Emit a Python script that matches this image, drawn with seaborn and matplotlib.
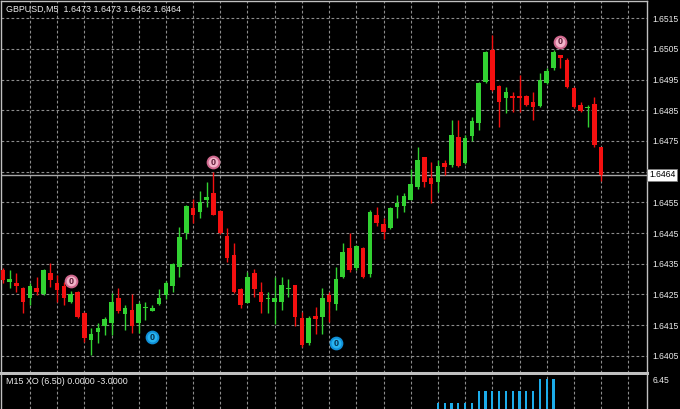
import matplotlib
import numpy as np
import pandas as pd

matplotlib.use("Agg")
import matplotlib.pyplot as plt
import seaborn as sns

symbol = "GBPUSD,M5"
last_bar = [1.6473, 1.6473, 1.6462, 1.6464]

opens = [1.64329, 1.64290, 1.64288, 1.64271, 1.64238, 1.64271, 1.64251, 1.64319, 1.64287, 1.64278,
         1.64225, 1.64257, 1.64189, 1.64101, 1.64127, 1.64147, 1.64156, 1.64238, 1.64186, 1.64199,
         1.64156, 1.64206, 1.64196, 1.64218, 1.64248, 1.64277, 1.64339, 1.64450, 1.64531, 1.64518,
         1.64557, 1.64580, 1.64522, 1.64440, 1.64378, 1.64267, 1.64222, 1.64319, 1.64257, 1.64235,
         1.64225, 1.64225, 1.64267, 1.64280, 1.64173, 1.64091, 1.64179, 1.64176, 1.64248, 1.64218,
         1.64306, 1.64401, 1.64336, 1.64401, 1.64316, 1.64509, 1.64479, 1.64466, 1.64535, 1.64538,
         1.64557, 1.64600, 1.64698, 1.64629, 1.64616, 1.64678, 1.64672, 1.64763, 1.64678, 1.64766,
         1.64809, 1.64942, 1.65047, 1.64929, 1.64890, 1.64897, 1.64897, 1.64897, 1.64877, 1.64864,
         1.64939, 1.64988, 1.65030, 1.65014, 1.64923, 1.64867, 1.64858, 1.64871, 1.64730]
highs = [1.64336, 1.64329, 1.64319, 1.64274, 1.64287, 1.64306, 1.64332, 1.64352, 1.64313, 1.64290,
         1.64261, 1.64261, 1.64192, 1.64140, 1.64156, 1.64176, 1.64254, 1.64271, 1.64215, 1.64251,
         1.64225, 1.64225, 1.64215, 1.64267, 1.64293, 1.64352, 1.64469, 1.64541, 1.64561, 1.64587,
         1.64616, 1.64649, 1.64525, 1.64466, 1.64417, 1.64271, 1.64323, 1.64332, 1.64290, 1.64257,
         1.64306, 1.64306, 1.64300, 1.64280, 1.64192, 1.64179, 1.64209, 1.64271, 1.64257, 1.64339,
         1.64417, 1.64450, 1.64411, 1.64404, 1.64525, 1.64535, 1.64499, 1.64535, 1.64574, 1.64580,
         1.64659, 1.64730, 1.64698, 1.64681, 1.64688, 1.64688, 1.64818, 1.64818, 1.64769, 1.64828,
         1.64942, 1.65043, 1.65096, 1.64932, 1.64926, 1.64910, 1.64965, 1.64900, 1.64910, 1.64972,
         1.64988, 1.65047, 1.65030, 1.65021, 1.64926, 1.64877, 1.64867, 1.64893, 1.64730]
lows = [1.64287, 1.64271, 1.64257, 1.64189, 1.64215, 1.64248, 1.64248, 1.64274, 1.64225, 1.64215,
        1.64222, 1.64173, 1.64094, 1.64052, 1.64091, 1.64117, 1.64117, 1.64189, 1.64134, 1.64124,
        1.64124, 1.64166, 1.64196, 1.64215, 1.64235, 1.64257, 1.64306, 1.64430, 1.64483, 1.64499,
        1.64535, 1.64509, 1.64447, 1.64355, 1.64254, 1.64205, 1.64222, 1.64241, 1.64189, 1.64189,
        1.64153, 1.64199, 1.64241, 1.64147, 1.64078, 1.64085, 1.64121, 1.64121, 1.64160, 1.64199,
        1.64303, 1.64323, 1.64329, 1.64303, 1.64306, 1.64473, 1.64430, 1.64463, 1.64499, 1.64518,
        1.64557, 1.64593, 1.64600, 1.64548, 1.64584, 1.64639, 1.64665, 1.64665, 1.64675, 1.64750,
        1.64786, 1.64939, 1.64913, 1.64796, 1.64841, 1.64844, 1.64844, 1.64864, 1.64818, 1.64861,
        1.64936, 1.64981, 1.64988, 1.64923, 1.64858, 1.64844, 1.64796, 1.64730, 1.64620]
closes = [1.64297, 1.64300, 1.64278, 1.64225, 1.64278, 1.64257, 1.64329, 1.64297, 1.64264, 1.64238,
          1.64251, 1.64176, 1.64107, 1.64121, 1.64140, 1.64169, 1.64225, 1.64196, 1.64205, 1.64147,
          1.64218, 1.64210, 1.64205, 1.64238, 1.64287, 1.64349, 1.64437, 1.64538, 1.64509, 1.64551,
          1.64567, 1.64509, 1.64450, 1.64368, 1.64257, 1.64215, 1.64306, 1.64267, 1.64225, 1.64238,
          1.64238, 1.64280, 1.64271, 1.64176, 1.64085, 1.64173, 1.64169, 1.64238, 1.64225, 1.64300,
          1.64388, 1.64329, 1.64407, 1.64306, 1.64518, 1.64483, 1.64453, 1.64531, 1.64548, 1.64571,
          1.64610, 1.64688, 1.64616, 1.64610, 1.64668, 1.64665, 1.64769, 1.64668, 1.64760, 1.64815,
          1.64939, 1.65040, 1.64916, 1.64877, 1.64910, 1.64890, 1.64890, 1.64867, 1.64861, 1.64949,
          1.64978, 1.65040, 1.65021, 1.64926, 1.64861, 1.64848, 1.64861, 1.64737, 1.64640]

price_ticks = [1.6405, 1.6415, 1.6425, 1.6435, 1.6445, 1.6455, 1.6465,
               1.6475, 1.6485, 1.6495, 1.6505, 1.6515]

# zigzag "0" marks (candle index, price)
top_marks = [10, 31, 82]
top_prices = [1.64293, 1.64681, 1.65073]
bottom_marks = [22, 49]
bottom_prices = [1.64111, 1.64091]

# M15 XO histogram, starts at candle 64
xo_first = 64
xo_values = [4.5, 4.5, 4.5, 4.5, 4.5, 4.5, 5.5, 5.5, 5.5, 5.5, 5.5, 5.5,
             5.5, 5.5, 5.5, 6.5, 6.5, 6.5]
xo_label = "M15 XO (6.50) 0.0000 -3.0000"
xo_tick = 6.45

GREEN = "#32d232"
RED = "#f41010"
GRIDC = "#8c8c8c"
FRAME = "#c0c0c0"
TXT = "#ececec"

sns.set_style("dark", {"axes.facecolor": "black", "figure.facecolor": "black"})
plt.rcParams["font.family"] = ["Liberation Sans", "DejaVu Sans"]

W, H = 680, 409
fig = plt.figure(figsize=(W / 100, H / 100), dpi=100)
ax = fig.add_axes([1 / W, 1 - 373 / H, 646 / W, 372 / H])
ax2 = fig.add_axes([1 / W, 0, 646 / W, 1 - 375 / H])

df = pd.DataFrame({"open": opens, "high": highs, "low": lows, "close": closes})
df["idx"] = np.arange(len(df))
colors = np.where(df["close"] >= df["open"], GREEN, RED)
ax.vlines(df["idx"], df["low"], df["high"], color=colors, lw=1, zorder=3)
body = (df["close"] - df["open"]).abs().clip(lower=0.00003)
ax.bar(df["idx"], body, bottom=df[["open", "close"]].min(axis=1), width=0.68,
       color=colors, linewidth=0, zorder=4)

xlim = (-0.25, 94.75)
ax.set_xlim(*xlim)
ax.set_ylim(1.63994, 1.65206)

ax.set_xticks(range(4, 93, 4))
ax.set_xticklabels([])
labels = ["%.4f" % p for p in price_ticks]
labels[price_ticks.index(1.6465)] = ""
ax.yaxis.tick_right()
ax.set_yticks(price_ticks, labels)
ax.tick_params(axis="both", length=0, colors=TXT, labelsize=6.2, pad=4)
ax.grid(True, color=GRIDC, lw=0.8, ls=(0, (2.5, 2)))
ax.set_axisbelow(True)
for side, sp in ax.spines.items():
    sp.set_visible(True)
    sp.set_color(FRAME)
    sp.set_linewidth(1)
ax.spines["bottom"].set_linewidth(2.2)

# current price line and label
ax.axhline(last_bar[3], color="#a8a8a8", lw=1, zorder=2)
ax.text(1.003, last_bar[3], "%.4f" % last_bar[3], transform=ax.get_yaxis_transform(),
        ha="left", va="center", fontsize=6.2, color="black", clip_on=False, zorder=10,
        bbox=dict(boxstyle="square,pad=0.2", fc="white", ec="#808080", lw=0.6))

# zigzag marks
ax.scatter(top_marks, top_prices, s=72, facecolor="#f2b3c9", edgecolor="#d0688e",
           linewidth=1.4, zorder=6)
for x, y in zip(top_marks, top_prices):
    ax.text(x, y, "0", ha="center", va="center", fontsize=6.5, fontweight="bold",
            color="#5a1a34", zorder=7)
ax.scatter(bottom_marks, bottom_prices, s=72, facecolor="#28b4f0", edgecolor="#1090d8",
           linewidth=1.4, zorder=6)
for x, y in zip(bottom_marks, bottom_prices):
    ax.text(x, y, "0", ha="center", va="center", fontsize=6.5, fontweight="bold",
            color="#06304f", zorder=7)

fig.text(6 / W, 1 - 9 / H, "%s  %s" % (symbol, " ".join("%.4f" % v for v in last_bar)),
         color=TXT, fontsize=6.4, va="center", ha="left")

# indicator panel
xo = pd.DataFrame({"idx": np.arange(xo_first, xo_first + len(xo_values)), "value": xo_values})
sns.barplot(data=xo, x="idx", y="value", native_scale=True, width=0.32, color="#1cacea",
            saturation=1, errorbar=None, linewidth=0, edgecolor="#1cacea", ax=ax2, zorder=3)
ax2.set_xlim(*xlim)
ax2.set_ylim(6.83 - 34 / 12, 6.83)
ax2.set_xlabel("")
ax2.set_ylabel("")
ax2.set_xticks(range(4, 93, 4))
ax2.set_xticklabels([])
ax2.yaxis.tick_right()
ax2.set_yticks([xo_tick], ["%.2f" % xo_tick])
ax2.tick_params(axis="both", length=0, colors=TXT, labelsize=6.2, pad=4)
ax2.grid(True, axis="x", color=GRIDC, lw=0.8, ls=(0, (2.5, 2)))
ax2.grid(False, axis="y")
ax2.set_axisbelow(True)
for side, sp in ax2.spines.items():
    sp.set_visible(side in ("left", "right"))
    sp.set_color(FRAME)
    sp.set_linewidth(1)
fig.text(6 / W, 1 - 382 / H, xo_label, color=TXT, fontsize=6.4, va="center", ha="left")

fig.savefig("out.png", dpi=100, facecolor="black")
plt.close(fig)
